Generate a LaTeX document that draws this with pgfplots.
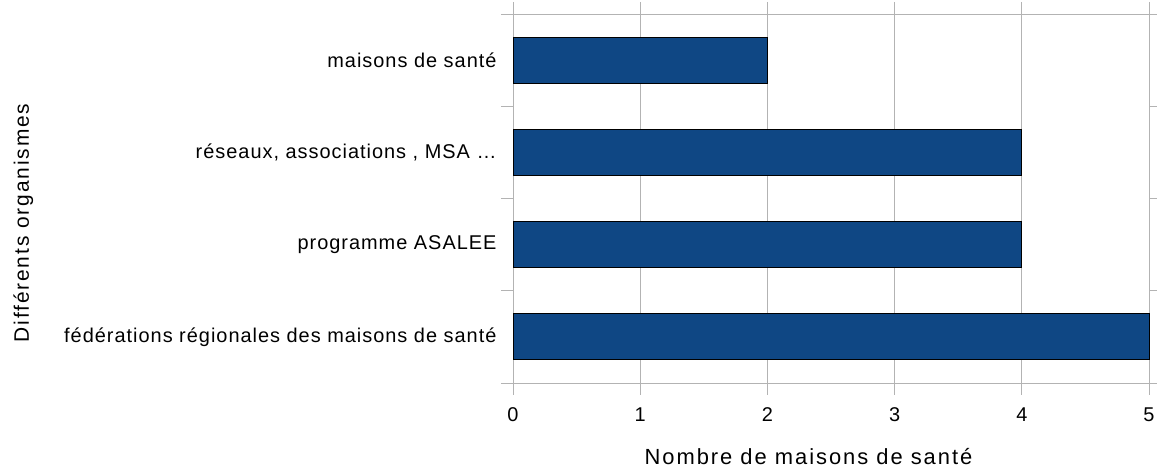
\documentclass[border=0pt]{standalone}
\usepackage{fontspec}
\setmainfont{Liberation Sans}
\newfontfamily\tickfont{Liberation Sans}[LetterSpace=5]
\newfontfamily\titlefont{Liberation Sans}[LetterSpace=9]
\usepackage{pgfplots}
\pgfplotsset{compat=1.18}
\definecolor{barblue}{HTML}{0F4784}
\definecolor{gridgray}{HTML}{B3B3B3}
\begin{document}
\begin{tikzpicture}
\path[use as bounding box] (0,0) rectangle (1157bp,471bp);
\begin{axis}[
    at={(513bp,88bp)}, anchor=south west,
    scale only axis,
    width=636bp, height=369bp,
    xbar,
    bar width=46bp,
    xmin=0, xmax=5,
    ymin=-0.5, ymax=3.5,
    xtick={0,1,2,3,4,5},
    ytick={-0.5,0.5,1.5,2.5,3.5},
    yticklabels={},
    extra y ticks={0,1,2,3},
    extra y tick labels={
        {fédérations régionales des maisons de santé},
        {programme ASALEE},
        {réseaux, associations , MSA …},
        {maisons de santé}
    },
    extra y tick style={major tick length=0pt, yticklabel style={xshift=-13bp}},
    tick align=outside,
    major tick length=12bp,
    tick style={draw=gridgray, line width=0.8bp},
    axis line style={draw=gridgray, line width=0.8bp},
    xmajorgrids,
    grid style={draw=gridgray, line width=0.8bp},
    ymajorgrids=false,
    /pgf/number format/assume math mode=true,
    ticklabel style={font=\tickfont\fontsize{20}{24}\selectfont},
    xticklabel style={yshift=-9bp},
    xlabel={Nombre de maisons de santé},
    ylabel={Différents organismes},
    label style={font=\titlefont\fontsize{21}{24}\selectfont},
    xlabel style={at={(axis description cs:0.4646,-0.2005)}, anchor=center,
        font=\titlefont\fontsize{22}{26}\selectfont},
    ylabel style={at={(axis description cs:-0.770,0.4336)}, anchor=center, rotate=0},
    clip=false,
]
\addplot[fill=barblue, draw=black, line width=0.8bp] coordinates {
    (5,0) (4,1) (4,2) (2,3)
};
\end{axis}
\end{tikzpicture}
\end{document}
